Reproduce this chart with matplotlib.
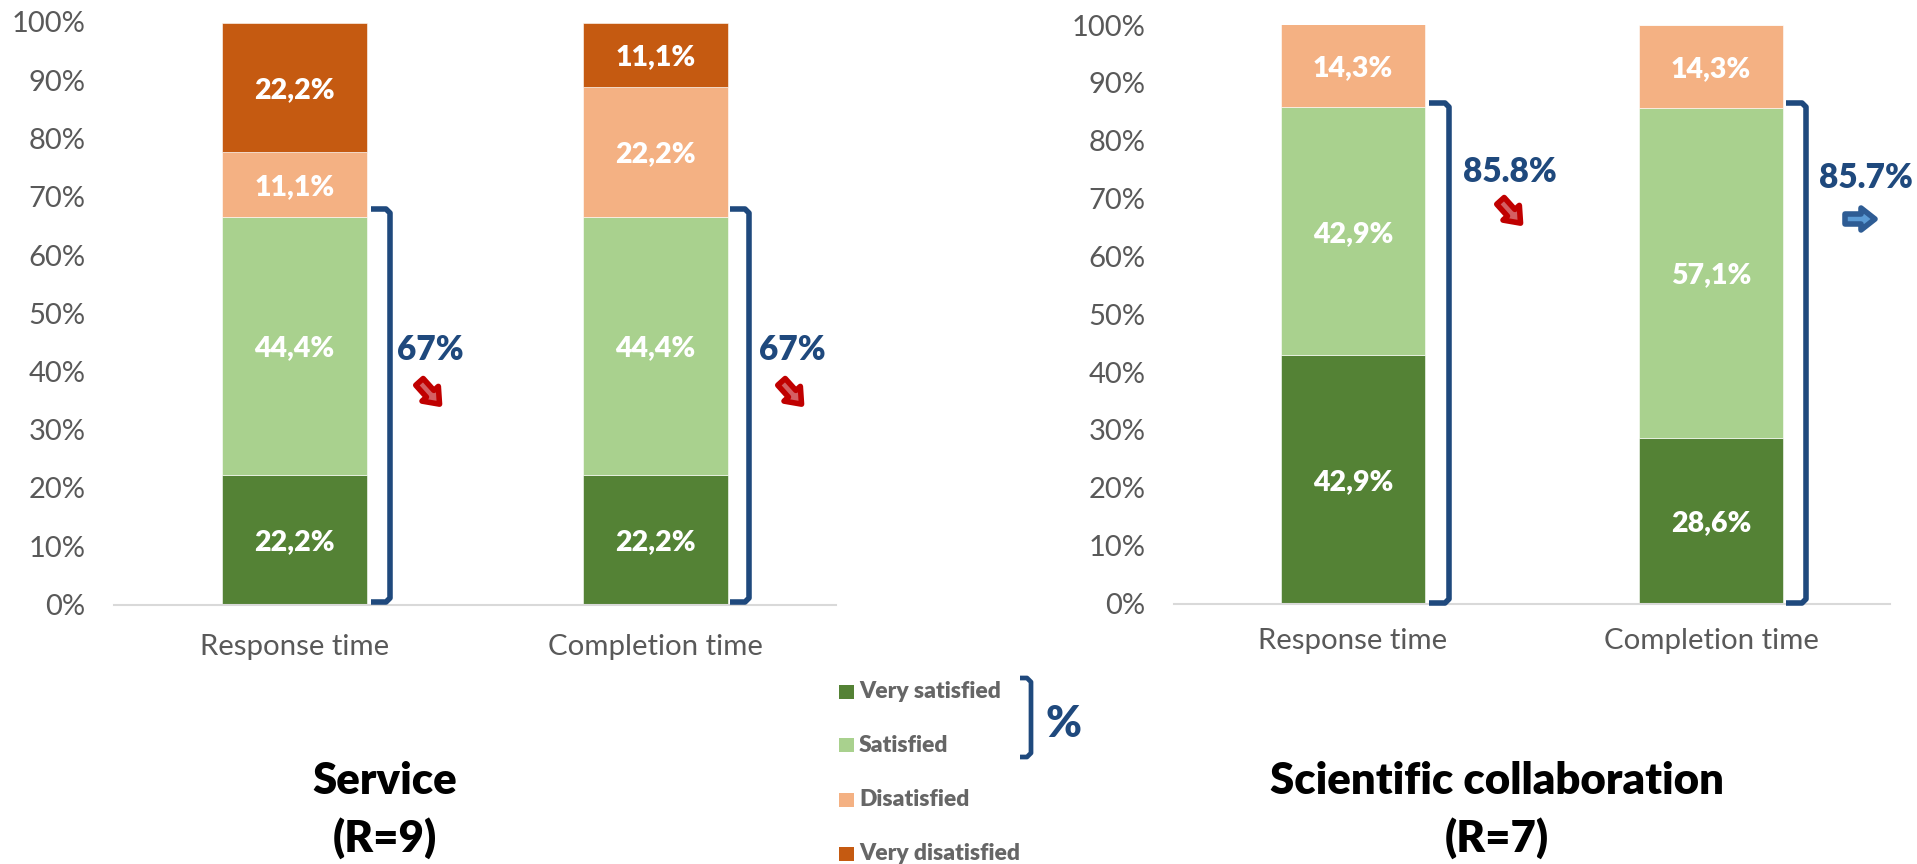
import matplotlib
matplotlib.use("Agg")
import matplotlib.pyplot as plt
from matplotlib.patches import Rectangle, Polygon
import numpy as np

plt.rcParams['font.family'] = ['Lato', 'DejaVu Sans']

W, H = 1917, 864

categories = ["Response time", "Completion time"]
series_names = ["Very satisfied", "Satisfied", "Disatisfied", "Very disatisfied"]
colors = ["#548235", "#A9D18E", "#F4B183", "#C55A11"]
yticks = [0, 10, 20, 30, 40, 50, 60, 70, 80, 90, 100]

service_vs = [22.2, 22.2]
service_s = [44.4, 44.4]
service_d = [11.1, 22.2]
service_vd = [22.2, 11.1]

sci_vs = [42.9, 28.6]
sci_s = [42.9, 57.1]
sci_d = [14.3, 14.3]
sci_vd = [0, 0]

service_totals = ["67%", "67%"]
sci_totals = ["85.8%", "85.7%"]

BLUE = "#1F497D"
RED = "#C00000"
GREY = "#595959"

fig = plt.figure(figsize=(W / 100, H / 100), dpi=100)


def axes_px(left, right, top, bottom):
    return fig.add_axes([left / W, 1 - bottom / H, (right - left) / W, (bottom - top) / H])


def fx(x):
    return x / W


def fy(y):
    return 1 - y / H


def draw_stack(ax, series):
    bottom = np.zeros(2)
    for vals, col in zip(series, colors):
        vals = np.array(vals, dtype=float)
        ax.bar(range(2), vals, 0.4, bottom=bottom, color=col, edgecolor="#ffffff", linewidth=0.4)
        for i, v in enumerate(vals):
            if v > 0:
                ax.text(i, bottom[i] + v / 2, f"{v:.1f}%".replace(".", ","), ha="center", va="center_baseline",
                        color="white", fontsize=20.5, fontweight="heavy")
        bottom += vals
    ax.set_xlim(-0.5, 1.5)
    ax.set_ylim(0, 100)
    ax.set_xticks(range(2))
    ax.set_xticklabels(categories, fontsize=21.2, color=GREY)
    ax.set_yticks(yticks)
    ax.set_yticklabels([f"{t}%" for t in yticks], fontsize=21, color=GREY)
    ax.tick_params(axis="both", length=0)
    ax.tick_params(axis="y", pad=20.5)
    for s in ["top", "left", "right"]:
        ax.spines[s].set_visible(False)
    ax.spines["bottom"].set_color("#D9D9D9")
    ax.spines["bottom"].set_linewidth(1.5)


def bracket(x0, x1, y0, y1, lw=4):
    # right hand square bracket, figure pixels
    r = 4
    xs = [x0, x1 - r, x1, x1, x1 - r, x0]
    ys = [y0, y0, y0 + r, y1 - r, y1, y1]
    fig.add_artist(plt.Line2D([fx(v) for v in xs], [fy(v) for v in ys], color=BLUE, lw=lw,
                              solid_joinstyle="round", solid_capstyle="butt"))


def arrow(cx, cy, angle, fill, edge):
    # block arrow pointing along angle (deg, clockwise from right), figure pixels
    pts = np.array([[-15, -5], [1, -5], [1, -11], [15, 0], [1, 11], [1, 5], [-15, 5]], dtype=float)
    a = np.radians(angle)
    rot = np.array([[np.cos(a), -np.sin(a)], [np.sin(a), np.cos(a)]])
    pts = pts @ rot.T + [cx, cy]
    fig.add_artist(Polygon([(fx(x), fy(y)) for x, y in pts], closed=True, transform=fig.transFigure,
                           facecolor=fill, edgecolor=edge, linewidth=4, joinstyle="round"))


ax1 = axes_px(114, 836, 22, 604.5)
draw_stack(ax1, [service_vs, service_s, service_d, service_vd])

ax2 = axes_px(1174, 1890, 25, 603.5)
draw_stack(ax2, [sci_vs, sci_s, sci_d, sci_vd])
ax1.tick_params(axis="x", pad=21)
ax2.tick_params(axis="x", pad=18)

# brackets and totals
for x0, x1 in [(371, 390), (730, 749)]:
    bracket(x0, x1, 209, 602)
for x0, x1 in [(1429, 1449), (1786, 1806)]:
    bracket(x0, x1, 103, 603)

for xc, t in zip([430, 792], service_totals):
    fig.text(fx(xc), fy(350), t, ha="center", va="center", fontsize=24, fontweight="heavy", color=BLUE)
fig.text(fx(1510), fy(172), sci_totals[0], ha="center", va="center", fontsize=24, fontweight="heavy", color=BLUE)
fig.text(fx(1866), fy(178), sci_totals[1], ha="center", va="center", fontsize=24, fontweight="heavy", color=BLUE)

arrow(429.5, 393, 48, "#D45F63", RED)
arrow(791.5, 393, 48, "#D45F63", RED)
arrow(1510.5, 212, 48, "#D45F63", RED)
arrow(1860, 219, 0, "#5B9BD5", "#2E5C94")

# titles
fig.text(fx(385), fy(781), "Service", ha="center", va="center", fontsize=31.5, fontweight="heavy", color="black")
fig.text(fx(385), fy(838), "(R=9)", ha="center", va="center", fontsize=31.5, fontweight="heavy", color="black")
fig.text(fx(1497), fy(781), "Scientific collaboration", ha="center", va="center", fontsize=31.5, fontweight="heavy", color="black")
fig.text(fx(1497), fy(838), "(R=7)", ha="center", va="center", fontsize=31.5, fontweight="heavy", color="black")

# legend
for name, col, yc in zip(series_names, colors, [692, 745, 800, 854]):
    fig.add_artist(Rectangle((fx(839), fy(yc + 7)), 15 / W, 14 / H, transform=fig.transFigure, facecolor=col, edgecolor="none"))
    fig.text(fx(859), fy(yc), name, ha="left", va="center", fontsize=16.5, fontweight="heavy", color="#666666")
bracket(1020, 1031, 678, 757, lw=3.4)
fig.text(fx(1063), fy(724), "%", ha="center", va="center", fontsize=31, fontweight="heavy", color=BLUE)

fig.savefig("out.png", dpi=100)
